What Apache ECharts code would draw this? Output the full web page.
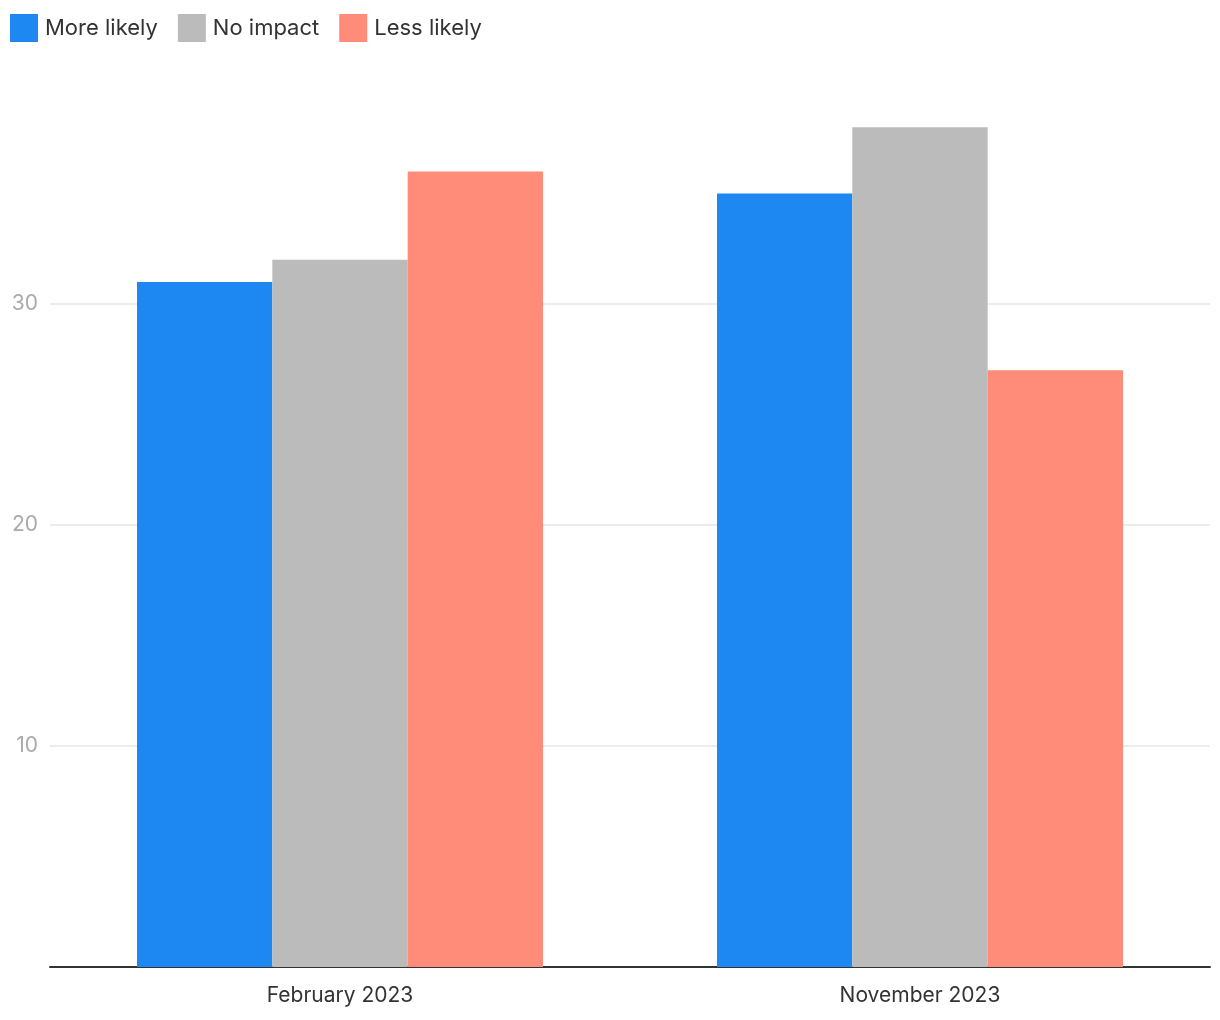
<!DOCTYPE html>
<html>
<head>
<meta charset="utf-8">
<script src="https://cdn.jsdelivr.net/npm/echarts@6/dist/echarts.min.js"></script>
<style>
  html, body { margin: 0; padding: 0; background: #fff; }
  #chart { width: 1220px; height: 1020px; }
</style>
</head>
<body>
<div id="chart"></div>
<script>
// values
const categories = ['February 2023', 'November 2023'];
const moreLikely = [31, 35];
const noImpact = [32, 38];
const lessLikely = [36, 27];
const seriesNames = ['More likely', 'No impact', 'Less likely'];
const colors = ['#1e88f2', '#bbbbbb', '#ff8c78'];

const chart = echarts.init(document.getElementById('chart'));

let option = {
  animation: false,
  color: colors,
  textStyle: { fontFamily: 'Inter, Lato, sans-serif' },
  legend: {
    left: 10,
    top: 14,
    padding: 0,
    itemWidth: 28,
    itemHeight: 28,
    itemGap: 20,
    icon: 'rect',
    textStyle: { fontSize: 22, color: '#333', padding: [0, 0, 0, 2] }
  },
  grid: {
    left: 50,
    right: 10,
    top: 83,
    bottom: 53,
    containLabel: false
  },
  xAxis: {
    type: 'category',
    data: categories,
    axisLine: { lineStyle: { color: '#333', width: 2 } },
    axisTick: { show: false },
    axisLabel: { fontSize: 21, color: '#333', margin: 18 }
  },
  yAxis: {
    type: 'value',
    min: 0,
    max: 40,
    interval: 10,
    axisLine: { show: false },
    axisTick: { show: false },
    axisLabel: {
      fontSize: 21,
      color: '#aaa',
      margin: 12,
      showMinLabel: false,
      showMaxLabel: false
    },
    splitLine: {
      showMinLine: false,
      showMaxLine: false,
      lineStyle: { color: '#e6e6e6', width: 1.5 }
    }
  },
  series: [
    { name: seriesNames[0], type: 'bar', data: moreLikely, barGap: '0%', barCategoryGap: '30%' },
    { name: seriesNames[1], type: 'bar', data: noImpact, barGap: '0%', barCategoryGap: '30%' },
    { name: seriesNames[2], type: 'bar', data: lessLikely, barGap: '0%', barCategoryGap: '30%' }
  ]
};

chart.setOption(option);
</script>
</body>
</html>
